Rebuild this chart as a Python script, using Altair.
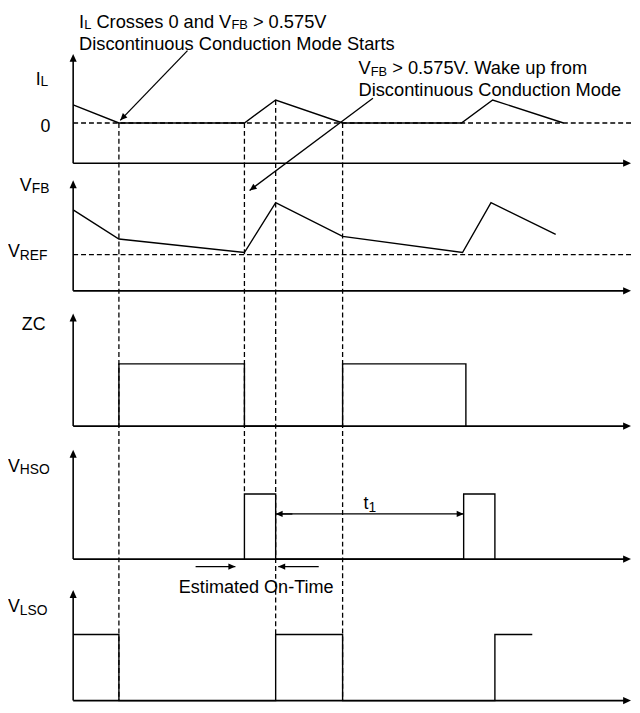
import math
import altair as alt
import pandas as pd

# ---------------- data (time in arbitrary units: 0 = vertical axes, 100 = arrow tip) -------------
IL_t = [0, 8.2, 30.7, 36.3, 48.3, 69.6, 75.2, 87.9]
IL_v = [0.79, 0, 0, 1.0, 0, 0, 1.0, 0]

VFB_t = [0, 8.2, 30.7, 36.3, 48.3, 69.8, 74.9, 86.5]
VFB_v = [0.86, 0.30, 0.04, 1.0, 0.35, 0.04, 1.0, 0.39]

ZC_t = [8.2, 8.2, 30.7, 30.7, 48.3, 48.3, 70.4, 70.4]
ZC_v = [0, 1, 1, 0, 0, 1, 1, 0]

HSO_t = [30.7, 30.7, 36.3, 36.3, 70.0, 70.0, 75.6, 75.6]
HSO_v = [0, 1, 1, 0, 0, 1, 1, 0]

LSO_t = [0, 8.2, 8.2, 36.3, 36.3, 48.3, 48.3, 75.6, 75.6, 82.3]
LSO_v = [1, 1, 0, 0, 1, 1, 0, 0, 1, 1]

# vertical guide lines: time, (from panel, level), (to panel, level)
GUIDE_t = [8.2, 30.7, 36.3, 48.3]
GUIDE_from = [("IL", 0), ("IL", 0), ("IL", 1.0), ("IL", 0)]
GUIDE_to = [("LSO", 0), ("HSO", 1), ("LSO", 1), ("LSO", 0)]

# ---------------- layout ----------------
W, H = 632, 697
X0, XS = 74, 5.65          # page x of t=0, px per time unit
PANEL = {  # axis_y, top_y, zero_y, gain  (page px)
    "IL": (160.7, 50, 120, 23.3),
    "VFB": (290, 178, 253.3, 52.6),
    "ZC": (427, 313, 427, 63),
    "HSO": (561.7, 451, 561.7, 66),
    "LSO": (705, 593, 705, 67),
}
FONT = "Liberation Sans"


def py(panel, v):
    a, top, z, g = PANEL[panel]
    return z - v * g


def tx(px):
    return (px - X0) / XS


solid, dashed, heads, texts = [], [], [], []
gid = [0]


def add_line(store, pts, w):
    gid[0] += 1
    for i, (t, y) in enumerate(pts):
        store.append({"t": t, "y": y, "id": gid[0], "i": i, "w": w})


def add_head(t, y, ang, size):
    heads.append({"t": t, "y": y, "ang": ang % 360, "sz": size})


def arrow(t0, y0, t1, y1, size=200):
    add_line(solid, [(t0, y0), (t1, y1)], 1.3)
    dx, dy = (t1 - t0) * XS, (y1 - y0)
    add_head(t1, y1, math.degrees(math.atan2(dx, -dy)), size)


# signals
for name, ts, vs in [("IL", IL_t, IL_v), ("VFB", VFB_t, VFB_v), ("ZC", ZC_t, ZC_v),
                     ("HSO", HSO_t, HSO_v), ("LSO", LSO_t, LSO_v)]:
    add_line(solid, [(t, py(name, v)) for t, v in zip(ts, vs)], 1.4)

# axes
for name, (ay, top, z, g) in PANEL.items():
    add_line(solid, [(0, ay), (0, top + 4)], 1.6)
    add_line(solid, [(0, ay), (100 - 0.7, ay)], 1.6)
    add_head(0, top, 0, 256)
    add_head(100, ay, 90, 256)

# dashed reference lines
add_line(dashed, [(0, py("IL", 0)), (100, py("IL", 0))], 1.3)
add_line(dashed, [(0, py("VFB", 0)), (100, py("VFB", 0))], 1.3)
for t, f, to in zip(GUIDE_t, GUIDE_from, GUIDE_to):
    add_line(dashed, [(t, py(*f)), (t, py(*to))], 1.3)

# annotation arrows
arrow(tx(189.8), 46.7, tx(121.7), 117.3)
arrow(tx(377.6), 95, tx(252.7), 188.3)
t1_y = 516
arrow(36.3 + 3, t1_y, 36.3, t1_y)
arrow(36.3 + 1, t1_y, 70.0, t1_y)
ot_y = 569.3
arrow(tx(198), ot_y, tx(238.3), ot_y)
arrow(tx(322.7), ot_y, tx(281.7), ot_y)

# ---------------- text ----------------
AW = {" ": 278, ".": 278, ">": 584, "-": 333, "0": 556, "1": 556, "5": 556, "7": 556,
      "B": 667, "C": 722, "D": 722, "E": 667, "F": 611, "H": 722, "I": 278, "L": 556,
      "M": 833, "O": 778, "R": 722, "S": 667, "T": 611, "V": 667, "W": 944, "Z": 611,
      "a": 556, "c": 500, "d": 556, "e": 556, "f": 278, "i": 222, "k": 500, "m": 833,
      "n": 556, "o": 556, "p": 556, "r": 333, "s": 500, "t": 278, "u": 556}

A = 18.5   # annotation font size
S = 13     # subscript font size
TEXT_ITEMS = [
    (80, 24, [("I", A, 0), ("L", S, 1), (" Crosses 0 and V", A, 0), ("FB", S, 1), (" > 0.575V", A, 0)]),
    (80, 46, [("Discontinuous Conduction Mode Starts", A, 0)]),
    (363, 70, [("V", A, 0), ("FB", S, 2), (" > 0.575V. Wake up from", A, 0)]),
    (363, 93, [("Discontinuous Conduction Mode", A, 0)]),
    (36, 82, [("I", 18, 0), ("L", 14, 1)]),
    (41, 129, [("0", 18, 0)]),
    (20, 189, [("V", 18, 0), ("FB", 14, 2)]),
    (8, 256, [("V", 18, 0), ("REF", 14, 3)]),
    (22, 330, [("ZC", 18, 0)]),
    (8, 473, [("V", 18, 0), ("HSO", 14, 3)]),
    (8, 615, [("V", 18, 0), ("LSO", 14, 3)]),
    (368, 511, [("t", 18, 0), ("1", 14, 3)]),
    (181, 596, [("Estimated On-Time", 18.3, 0)]),
]

for x, base, segs in TEXT_ITEMS:
    cx = x
    for s, fs, dy in segs:
        lead = len(s) - len(s.lstrip(" "))
        cx += lead * AW[" "] * fs / 1000
        body = s.strip(" ")
        texts.append({"t": tx(cx), "y": base + dy, "txt": body, "fs": fs})
        cx += sum(AW[c] for c in body) * fs / 1000

# ---------------- chart ----------------
xs = alt.Scale(domain=[0, 100], range=[X0 - 8, X0 - 8 + 100 * XS], nice=False, zero=False)
ys = alt.Scale(domain=[8, 8 + H], range=[0, H], nice=False, zero=False)
X = alt.X("t:Q", scale=xs, axis=None)
Y = alt.Y("y:Q", scale=ys, axis=None)

dash_layer = alt.Chart(pd.DataFrame(dashed)).mark_line(
    color="black", strokeDash=[5, 3], strokeCap="butt").encode(
    x=X, y=Y, detail="id:N", order="i:Q", strokeWidth=alt.StrokeWidth("w:Q", scale=None))

solid_layer = alt.Chart(pd.DataFrame(solid)).mark_line(
    color="black", strokeCap="butt", strokeJoin="miter").encode(
    x=X, y=Y, detail="id:N", order="i:Q", strokeWidth=alt.StrokeWidth("w:Q", scale=None))

head_layer = alt.Chart(pd.DataFrame(heads)).mark_point(
    shape="M0,0L-0.45,1L0.45,1Z", filled=True, color="black", opacity=1, strokeWidth=0).encode(
    x=X, y=Y, angle=alt.Angle("ang:Q", scale=None), size=alt.Size("sz:Q", scale=None))

text_layer = alt.Chart(pd.DataFrame(texts)).mark_text(
    align="left", baseline="alphabetic", font=FONT, color="black").encode(
    x=X, y=Y, text="txt:N", size=alt.Size("fs:Q", scale=None))

chart = alt.layer(dash_layer, solid_layer, head_layer, text_layer).properties(
    width=W, height=H, padding=0, autosize=alt.AutoSizeParams(type="none"),
    background="white").configure_view(stroke=None)

chart.save("out.html", embed_options={"renderer": "svg", "actions": False})
